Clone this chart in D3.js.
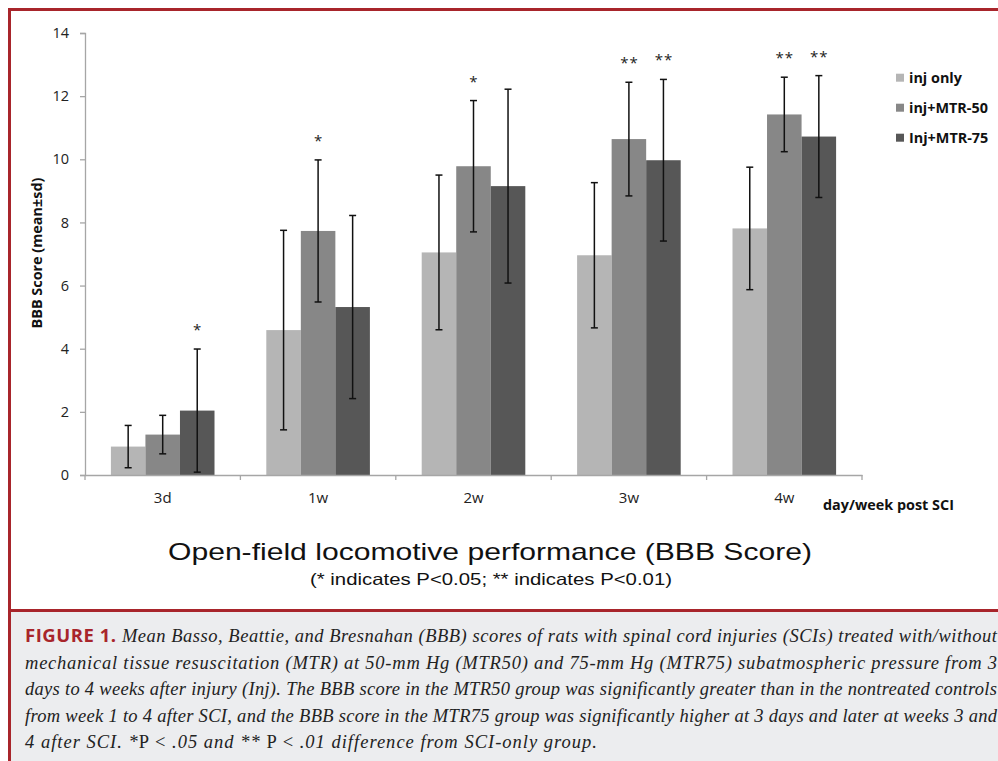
<!DOCTYPE html>
<html>
<head>
<meta charset="utf-8">
<script src="https://cdn.jsdelivr.net/npm/d3@7"></script>
<style>
  html, body { margin: 0; padding: 0; background: #fff; }
  svg { display: block; }
</style>
</head>
<body>
<script>
// ---------- data ----------
const categories = ["3d", "1w", "2w", "3w", "4w"];
const seriesNames = ["inj only", "inj+MTR-50", "Inj+MTR-75"];
const seriesColors = ["#b5b5b5", "#878787", "#575757"];
const injOnly  = [0.90, 4.59, 7.05, 6.96, 7.81];
const injMTR50 = [1.28, 7.73, 9.78, 10.64, 11.42];
const injMTR75 = [2.04, 5.32, 9.15, 9.97, 10.72];
const sdInjOnly  = [0.67, 3.16, 2.45, 2.30, 1.94];
const sdMTR50    = [0.61, 2.25, 2.08, 1.80, 1.18];
const sdMTR75    = [1.95, 2.90, 3.07, 2.56, 1.93];
const sigMTR50   = ["", "*", "*", "**", "**"];
const sigMTR75   = ["*", "", "", "**", "**"];
const yTicks = [0, 2, 4, 6, 8, 10, 12, 14];
const yLabel = "BBB Score (mean±sd)";
const xLabel = "day/week post SCI";
const title = "Open-field locomotive performance (BBB Score)";
const subtitle = "(* indicates P<0.05; ** indicates P<0.01)";
const captionLines = [
  "Mean Basso, Beattie, and Bresnahan (BBB) scores of rats with spinal cord injuries (SCIs) treated with/without",
  "mechanical tissue resuscitation (MTR) at 50-mm Hg (MTR50) and 75-mm Hg (MTR75) subatmospheric pressure from 3",
  "days to 4 weeks after injury (Inj). The BBB score in the MTR50 group was significantly greater than in the nontreated controls",
  "from week 1 to 4 after SCI, and the BBB score in the MTR75 group was significantly higher at 3 days and later at weeks 3 and"
];

const values = [injOnly, injMTR50, injMTR75];
const sds = [sdInjOnly, sdMTR50, sdMTR75];
const sigs = [categories.map(() => ""), sigMTR50, sigMTR75];

// ---------- layout ----------
const W = 998, H = 761;
const red = "#a8252b";
const svg = d3.select("body").append("svg").attr("width", W).attr("height", H);

svg.append("rect").attr("x", 0).attr("y", 0).attr("width", W).attr("height", H).attr("fill", "#fff");
// caption background
svg.append("rect").attr("x", 10).attr("y", 611).attr("width", W - 10).attr("height", H - 611).attr("fill", "#ecedef");
// borders
svg.append("line").attr("x1", 8).attr("x2", W).attr("y1", 9.5).attr("y2", 9.5).attr("stroke", red).attr("stroke-width", 3);
svg.append("line").attr("x1", 9.5).attr("x2", 9.5).attr("y1", 8).attr("y2", H).attr("stroke", red).attr("stroke-width", 3);
svg.append("line").attr("x1", 8).attr("x2", W).attr("y1", 610.5).attr("y2", 610.5).attr("stroke", red).attr("stroke-width", 3);

// scales
const x0 = d3.scaleBand().domain(categories).range([85, 862]).paddingInner(0).paddingOuter(0);
const x1 = d3.scaleBand().domain(d3.range(seriesNames.length)).range([0, x0.bandwidth()]).paddingInner(0).paddingOuter(0.75);
const y = d3.scaleLinear().domain([0, 14]).range([475, 33]);
const font = "'Open Sans', sans-serif";

// bars
const g = svg.append("g");
seriesNames.forEach((s, si) => {
  g.selectAll(null).data(categories).enter().append("rect")
    .attr("x", c => x0(c) + x1(si))
    .attr("width", x1.bandwidth())
    .attr("y", (c, i) => y(values[si][i]))
    .attr("height", (c, i) => y(0) - y(values[si][i]))
    .attr("fill", seriesColors[si]);
});

// y axis
const yAxis = svg.append("g").attr("transform", "translate(85,0)")
  .call(d3.axisLeft(y).tickValues(yTicks).tickSize(5).tickPadding(11).tickFormat(d3.format("d")));
yAxis.select(".domain").attr("stroke", "#a6a6a6").attr("stroke-width", 1.3);
yAxis.selectAll(".tick line").attr("stroke", "#a6a6a6").attr("stroke-width", 1.3);
yAxis.selectAll(".tick text").attr("font-family", font).attr("font-size", 14.5).attr("fill", "#222");

// x axis
const xAxis = svg.append("g").attr("transform", "translate(0,475)")
  .call(d3.axisBottom(x0).tickSize(0).tickPadding(17));
xAxis.select(".domain").attr("stroke", "#a6a6a6").attr("stroke-width", 1.3);
xAxis.selectAll(".tick text").attr("font-family", font).attr("font-size", 15).attr("fill", "#222");
const bounds = categories.map(c => x0(c)).concat([x0(categories[categories.length - 1]) + x0.bandwidth()]);
svg.append("g").selectAll("line").data(bounds).enter().append("line")
  .attr("x1", d => d).attr("x2", d => d).attr("y1", 475).attr("y2", 480)
  .attr("stroke", "#a6a6a6").attr("stroke-width", 1.3);

// error bars
const eb = svg.append("g").attr("stroke", "#111").attr("stroke-width", 1.5);
seriesNames.forEach((s, si) => {
  categories.forEach((c, i) => {
    const cx = x0(c) + x1(si) + x1.bandwidth() / 2;
    const hi = y(values[si][i] + sds[si][i]);
    const lo = y(values[si][i] - sds[si][i]);
    eb.append("line").attr("x1", cx).attr("x2", cx).attr("y1", hi).attr("y2", lo);
    eb.append("line").attr("x1", cx - 3.5).attr("x2", cx + 3.5).attr("y1", hi).attr("y2", hi);
    eb.append("line").attr("x1", cx - 3.5).attr("x2", cx + 3.5).attr("y1", lo).attr("y2", lo);
    if (sigs[si][i]) {
      svg.append("text").attr("x", cx + (sigs[si][i].length > 1 ? 0.5 : 0)).attr("y", hi - 14)
        .attr("text-anchor", "middle").attr("font-family", font).attr("font-size", 15)
        .attr("letter-spacing", sigs[si][i].length > 1 ? 1 : 0)
        .attr("fill", "#222").text(sigs[si][i]);
    }
  });
});

// axis labels
svg.append("text").attr("transform", "translate(42,253) rotate(-90)")
  .attr("text-anchor", "middle").attr("font-family", font).attr("font-weight", "bold")
  .attr("font-size", 14.4).attr("fill", "#111").text(yLabel);
svg.append("text").attr("x", 823).attr("y", 510)
  .attr("font-family", font).attr("font-weight", "bold").attr("font-size", 14.4).attr("fill", "#111").text(xLabel);

// legend
const leg = svg.append("g");
seriesNames.forEach((s, si) => {
  const cy = 77.7 + si * 30;
  leg.append("rect").attr("x", 896).attr("y", cy - 4).attr("width", 8).attr("height", 8).attr("fill", seriesColors[si]);
  leg.append("text").attr("x", 909).attr("y", cy + 5).attr("font-family", font).attr("font-weight", "bold")
    .attr("font-size", 14.4).attr("fill", "#111").text(s);
});

// titles
svg.append("text").attr("x", 168).attr("y", 559.5)
  .attr("textLength", 644).attr("lengthAdjust", "spacingAndGlyphs")
  .attr("font-family", "'Liberation Sans', Arial, sans-serif").attr("font-size", 24).attr("fill", "#111").text(title);
svg.append("text").attr("x", 310).attr("y", 584.5)
  .attr("textLength", 362).attr("lengthAdjust", "spacingAndGlyphs")
  .attr("font-family", "'Liberation Sans', Arial, sans-serif").attr("font-size", 16.5).attr("fill", "#111").text(subtitle);

// caption
const serif = "'Liberation Serif', 'DejaVu Serif', serif";
const baselines = [642, 668.5, 695, 721.5, 748];
captionLines.forEach((line, i) => {
  const t = svg.append("text").attr("x", 25).attr("y", baselines[i])
    .attr("textLength", 972).attr("lengthAdjust", "spacing").attr("fill", "#222");
  if (i === 0) {
    t.append("tspan").attr("font-family", font).attr("font-weight", "bold").attr("font-size", 18.5)
      .attr("fill", red).text("FIGURE 1. ");
  }
  t.append("tspan").attr("font-family", serif).attr("font-style", "italic").attr("font-size", 18.5).text(line);
});
const last = svg.append("text").attr("x", 25).attr("y", baselines[4])
  .attr("textLength", 572).attr("lengthAdjust", "spacing").attr("fill", "#222")
  .attr("font-family", serif).attr("font-size", 18.5);
last.append("tspan").attr("font-style", "italic").text("4 after SCI. *");
last.append("tspan").text("P < ");
last.append("tspan").attr("font-style", "italic").text(".05 and ** ");
last.append("tspan").text("P < ");
last.append("tspan").attr("font-style", "italic").text(".01 difference from SCI-only group.");
</script>
</body>
</html>
